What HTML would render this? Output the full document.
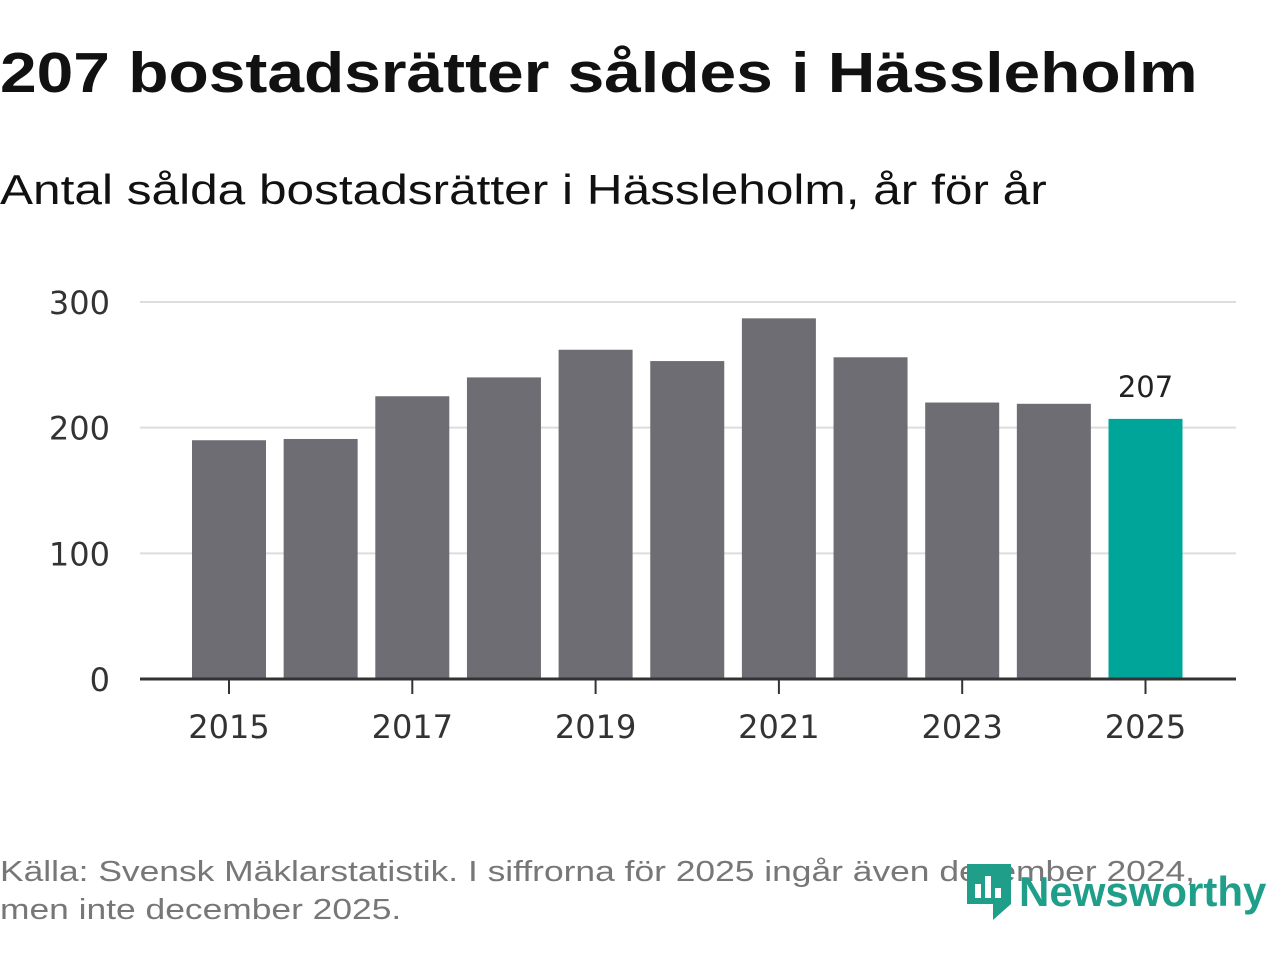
<!DOCTYPE html>
<html><head><meta charset="utf-8"><style>
body{margin:0;width:1280px;height:960px;background:#fff;font-family:"Liberation Sans","DejaVu Sans",sans-serif;overflow:hidden;position:relative}
.t{position:absolute;left:0;top:40px;font-size:57px;font-weight:bold;color:#111;transform:scaleX(1.156);transform-origin:0 0;white-space:nowrap}
.s{position:absolute;left:0;top:166px;font-size:42px;color:#111;transform:scaleX(1.18);transform-origin:0 0;white-space:nowrap}
.src{position:absolute;left:0;top:853px;font-size:29px;color:#777;line-height:38px;transform:scaleX(1.22);transform-origin:0 0;white-space:nowrap}
.logo{position:absolute;left:965px;top:862px;font-size:42px;font-weight:bold;color:#1f9e8a;display:flex;align-items:center;gap:6px}
</style></head><body>
<div class="t">207 bostadsrätter såldes i Hässleholm</div>
<div class="s">Antal sålda bostadsrätter i Hässleholm, år för år</div>
<svg id="c" width="1280" height="960" style="position:absolute;left:0;top:0"></svg>
<div class="src">Källa: Svensk Mäklarstatistik. I siffrorna för 2025 ingår även december 2024,<br>men inte december 2025.</div>
<div class="logo"><svg width="48" height="60" viewBox="0 0 48 60"><path d="M2 2h44v40l-18 16v-16H2z" fill="#1f9e8a"/><rect x="10" y="22" width="6" height="14" fill="#fff"/><rect x="20" y="14" width="6" height="22" fill="#fff"/><rect x="30" y="26" width="6" height="10" fill="#fff"/></svg><span>Newsworthy</span></div>
<script>
const years=[2015,2016,2017,2018,2019,2020,2021,2022,2023,2024,2025];
const values=[190,191,225,240,262,253,287,256,220,219,207];
const yTicks=[0,100,200,300];
const xTickYears=[2015,2017,2019,2021,2023,2025];
const svg=document.getElementById('c');const NS='http://www.w3.org/2000/svg';
const y0=679,pxPer=(679-302)/300;
const y=v=>y0-v*pxPer;
const x=yr=>229+(yr-2015)*91.65;
const F='DejaVu Sans,sans-serif';
function mk(t,a){const e=document.createElementNS(NS,t);for(const k in a)e.setAttribute(k,a[k]);svg.appendChild(e);return e;}
yTicks.forEach(v=>{
 if(v>0){const g=mk('line',{x1:140,x2:1236,y1:y(v),y2:y(v),stroke:'#ddd','stroke-width':2});
 
 }
 const t=mk('text',{x:110,y:y(v)+12,'text-anchor':'end','font-size':32,fill:'#333','font-family':F});t.textContent=v;
 
 
});
years.forEach((yr,i)=>{
 const last=i===years.length-1;
 const r=mk('rect',{x:x(yr)-37,y:y(values[i]),width:74,height:y0-y(values[i]),fill:last?'#00a599':'#6e6d73'});
 
 
 if(last){const l=mk('text',{x:x(yr),y:y(values[i])-22,'text-anchor':'middle','font-size':29,fill:'#222','font-family':F});l.textContent=values[i];
 
 }
});
const ax=mk('line',{x1:140,x2:1236,y1:y0,y2:y0,stroke:'#333','stroke-width':3});


xTickYears.forEach(yr=>{
 const tk=mk('line',{x1:x(yr),x2:x(yr),y1:y0,y2:y0+15,stroke:'#333','stroke-width':2});
 
 
 const t=mk('text',{x:x(yr),y:738,'text-anchor':'middle','font-size':32,fill:'#333','font-family':F});t.textContent=yr;
 
 
});
</script>
</body></html>
